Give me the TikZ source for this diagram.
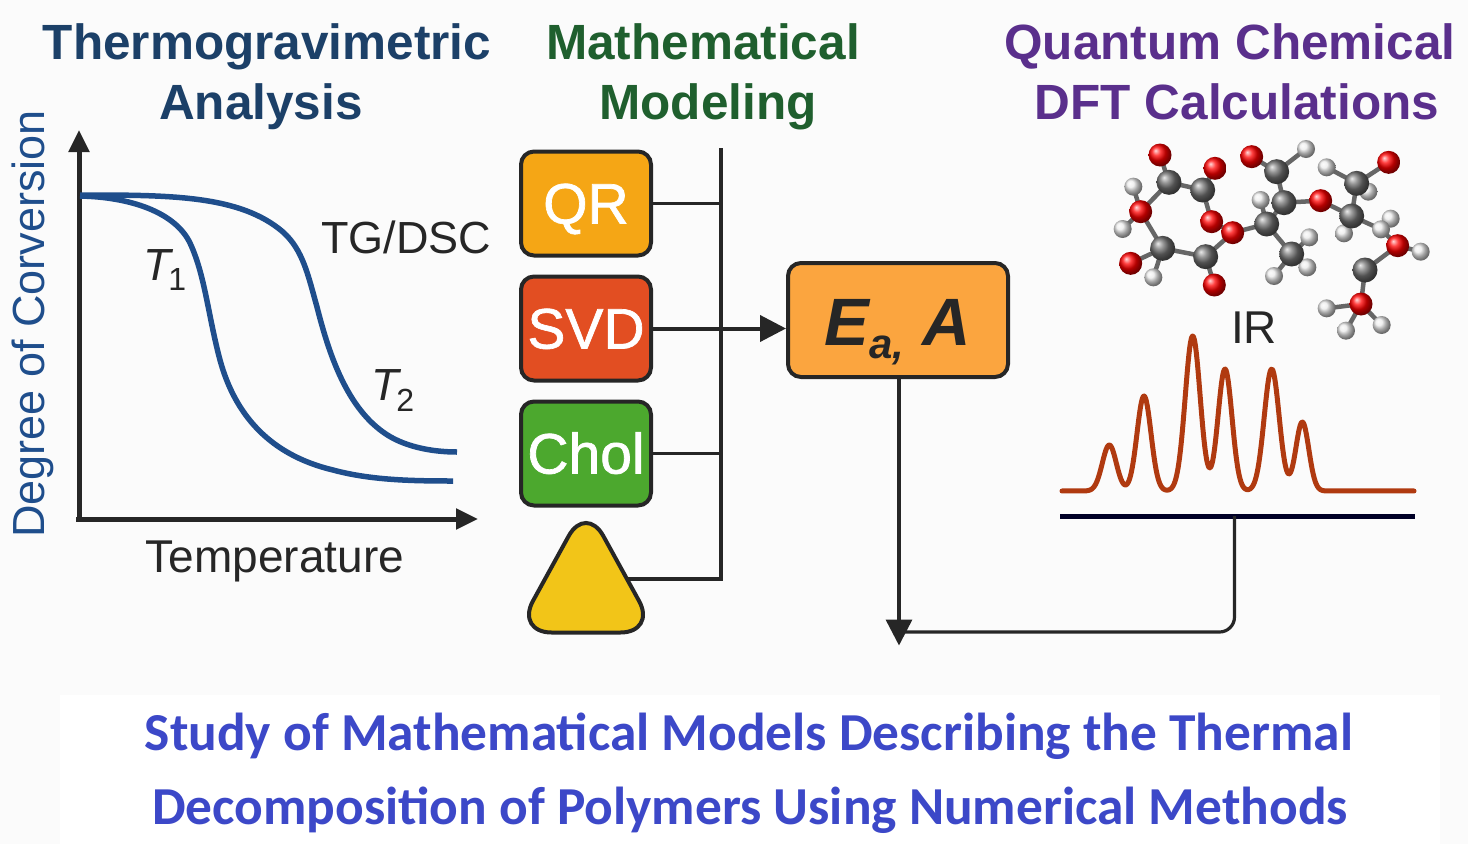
\documentclass[tikz,border=0pt]{standalone}
\usepackage{fontspec}
\setmainfont{Liberation Sans}
\newfontfamily\bannerfont{Carlito}
\newfontfamily\methodfont[FakeBold=1.2]{Liberation Sans}
\usetikzlibrary{arrows.meta}
\usetikzlibrary{backgrounds}
\definecolor{thermoblue}{HTML}{1C4068}
\definecolor{modelgreen}{HTML}{1F5F2E}
\definecolor{dftpurple}{HTML}{5A2F8C}
\definecolor{curveblue}{HTML}{1F4E8C}
\definecolor{linedark}{HTML}{262626}
\definecolor{bannerblue}{HTML}{3C48C8}
\definecolor{qrfill}{HTML}{F5A615}
\definecolor{svdfill}{HTML}{E24E22}
\definecolor{cholfill}{HTML}{4CA82E}
\definecolor{trifill}{HTML}{F2C518}
\definecolor{eafill}{HTML}{FBA53F}
\definecolor{irred}{HTML}{B03A10}
\tikzset{
  heading/.style={anchor=base,inner sep=0pt,font=\fontsize{49.5}{54}\selectfont\bfseries},
  label/.style={anchor=base,inner sep=0pt,text=black!85,font=\fontsize{45}{50}\selectfont},
  banner/.style={anchor=base,inner sep=0pt,text=bannerblue,font=\fontsize{53.4}{58}\selectfont\bannerfont\bfseries},
  method/.style={draw=linedark,line width=4pt,rounded corners=13pt,minimum width=130pt,minimum height=104pt,inner sep=0pt,
    text=white,text height=40pt,text depth=0pt,font=\fontsize{57}{60}\selectfont\methodfont},
  atomO/.style={circle,inner sep=0pt,minimum size=23pt,shading=ball,ball color=red},
  atomC/.style={circle,inner sep=0pt,minimum size=25pt,shading=ball,ball color=black!55},
  atomH/.style={circle,inner sep=0pt,minimum size=18pt,shading=ball,ball color=white!92!black},
  tip/.style={-{Triangle[length=26pt,width=26pt]}},
  axis/.style={line width=5pt,draw=linedark,-{Triangle[length=22pt,width=20pt]}},
  curve/.style={line width=5.5pt,draw=curveblue},
  wire/.style={draw=linedark,line width=3.2pt}
}
\begin{document}
\begin{tikzpicture}[x=1pt,y=-1pt,
  declare function={pk(\u,\c,\s)=exp(-((\u-\c)/\s)^2/2);}]
  \useasboundingbox (0,0) rectangle (1468,844);
  \begin{scope}[on background layer]
    \fill[black!1.5] (0,0) rectangle (1468,844);
    \fill[white] (60,695) rectangle (1440,844);
  \end{scope}
  % headings
  \node[heading,text=thermoblue] (thermoA) at (267,59) {Thermogravimetric};
  \node[heading,text=thermoblue] (thermoB) at (261,119) {Analysis};
  \node[heading,text=modelgreen] (modelA) at (703,59) {Mathematical};
  \node[heading,text=modelgreen] (modelB) at (708,119) {Modeling};
  \node[heading,text=dftpurple] (dftA) at (1230,59) {Quantum Chemical};
  \node[heading,text=dftpurple] (dftB) at (1237,119) {DFT Calculations};
  % TG plot
  \coordinate (origin) at (79,519);
  \coordinate (ytop) at (79,130);
  \coordinate (xleft) at (76,519);
  \coordinate (xend) at (478,519);
  \draw[axis] (origin) -- (ytop);
  \draw[axis] (xleft) -- (xend);
  \draw[curve] (80,196) .. controls (130,197) and (175,212) .. (190,243)
    .. controls (205,275) and (208,315) .. (220,360)
    .. controls (235,415) and (270,455) .. (333,470)
    .. controls (370,480) and (410,481) .. (453,481);
  \draw[curve] (80,195) .. controls (170,195) and (240,195) .. (283,232)
    .. controls (303,250) and (308,275) .. (317,307)
    .. controls (328,350) and (345,405) .. (383,432)
    .. controls (402,446) and (430,452) .. (457,452);
  \node[label,text=curveblue,rotate=90] (ylabel) at (44,324) {Degree of Corversion};
  \node[label,font=\fontsize{46}{50}\selectfont] (xlabel) at (275,572) {Temperature};
  \node[label] (tgdsc) at (406,253) {TG/DSC};
  \node[label,anchor=base west] (tone) at (143,280) {\textit{T}\kern-5pt\raisebox{-10pt}{\fontsize{32}{36}\selectfont 1}};
  \node[label,anchor=base west] (ttwo) at (371,400) {\textit{T}\kern-5pt\raisebox{-11pt}{\fontsize{32}{36}\selectfont 2}};
  % solvers
  \node[method,fill=qrfill] (qr) at (586,203.5) {QR};
  \node[method,fill=svdfill] (svd) at (586,328.5) {SVD};
  \node[method,fill=cholfill] (chol) at (586,453.5) {Chol};
  \draw[draw=linedark,line width=4pt,fill=trifill,rounded corners=36pt] (586,504.5) -- (656.4,632.5) -- (515.6,632.5) -- cycle;
  \coordinate (tri) at (627,579);
  \node[method,fill=eafill,minimum width=220pt,minimum height=114pt,text=black!85,text height=50pt] (ea) at (898,320)
    {\fontsize{67}{70}\selectfont\rmfamily\bfseries\itshape E\raisebox{-13pt}{\fontsize{42}{44}\selectfont a,}\ A};
  \coordinate (bustop) at (721,148);
  \coordinate (busend) at (721,579);
  \draw[wire] (bustop) -- (busend) -- (tri);
  \draw[wire] (qr.east) -- (qr.east -| bustop);
  \draw[wire] (chol.east) -- (chol.east -| bustop);
  \draw[wire,line width=4pt,tip] (svd.east) -- (svd.east -| ea.west);
  % molecule
  \begin{scope}[shift={(1050,130)},x=1/3pt,y=-1/3pt]
    \foreach \name/\xx/\yy in {H1/250/170,H2/218/297,H3/310/442,H4/768/57,H5/632/210,H6/778/322,H7/772/412,H8/672/438,H9/830/112,H10/955/185,H11/882/310,H12/1022/266,H13/993/298,H14/1112/365,H15/830/535,H16/888/602,H17/995/585}
      \node[atomH] (\name) at (\xx,\yy) {};
    \foreach \name/\xx/\yy in {C1/357/157,C2/458/180,C3/338/355,C4/467/380,C5/680/125,C6/702/218,C7/650/282,C8/725/372,C9/920/160,C10/905/258,C11/945/420}
      \node[atomC] (\name) at (\xx,\yy) {};
    \foreach \name/\xx/\yy in {O1/330/75,O2/495/115,O3/272/245,O4/485/275,O5/548/308,O6/242/400,O7/493/465,O8/605/80,O9/812/212,O10/1016/97,O11/1043/347,O12/933/522}
      \node[atomO] (\name) at (\xx,\yy) {};
  \end{scope}
  \begin{scope}[on background layer]
    \foreach \a/\b in {C1/O1,C1/C2,C2/O2,C2/O4,C1/O3,O3/H1,O3/H2,O3/C3,C3/O6,C3/H3,C3/C4,C4/O7,C4/O5,O4/O5,O5/C7,C7/H5,C7/C6,C7/C8,C8/H6,C8/H7,C8/H8,C6/C5,C5/O8,C5/H4,C6/O9,O9/C10,C10/C9,C9/H9,C9/O10,C9/H10,C10/H11,C10/H13,H13/H12,H13/O11,O11/H14,O11/C11,C11/O12,O12/H15,O12/H16,O12/H17}
      \draw[black!60,line width=4.5pt] (\a.center) -- (\b.center);
  \end{scope}
  % IR spectrum
  \node[label,font=\fontsize{46}{50}\selectfont] (ir) at (1254,343) {IR};
  \draw[irred,line width=5pt,line cap=round,line join=round] plot[domain=1062:1414,samples=400,smooth]
    ({\x},{491-46*pk(\x,1109.3,7)-95*pk(\x,1144,7)-155*pk(\x,1192.7,7.5)-122*pk(\x,1225,7)-122*pk(\x,1271.7,7.5)-69*pk(\x,1302.3,6.5)});
  \coordinate (barleft) at (1060,516);
  \coordinate (barright) at (1415,516);
  \coordinate (barfoot) at (1234.5,516);
  \coordinate (feedback) at (899,632);
  \draw[draw=black!85!blue,line width=5pt] (barleft) -- (barright);
  \draw[wire,rounded corners=15pt] (barfoot) -- (barfoot |- feedback) -- (feedback);
  \coordinate (eadown) at (899,645.5);
  \draw[wire,line width=3.5pt,tip] (ea.south -| eadown) -- (eadown);
  % bottom title
  \node[banner] (titleA) at (749,750) {Study of Mathematical Models Describing the Thermal};
  \node[banner] (titleB) at (750,824.5) {Decomposition of Polymers Using Numerical Methods};
\end{tikzpicture}
\end{document}
